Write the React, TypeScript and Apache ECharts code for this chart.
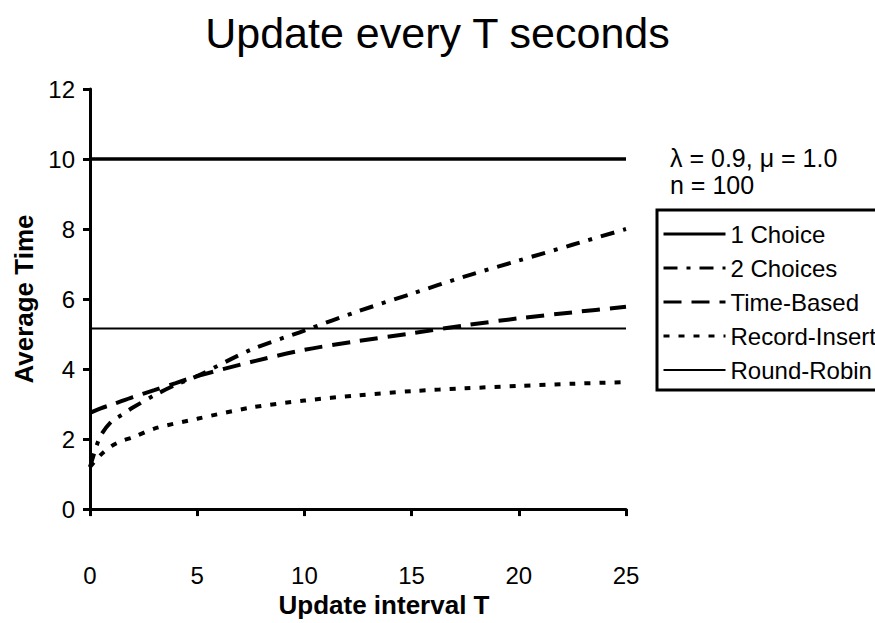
import React, { useEffect, useRef } from "react";
import * as echarts from "echarts";

const titleText = "Update every T seconds";
const xName = "Update interval T";
const yName = "Average Time";
const annotation = ["λ = 0.9, μ = 1.0", "n = 100"];

const seriesNames = ["1 Choice", "2 Choices", "Time-Based", "Record-Insert", "Round-Robin"];

const oneChoiceT = [0, 25];
const oneChoiceV = [10, 10];

const twoChoicesT = [0, 0.25, 0.5, 1, 1.5, 2, 3, 4, 5, 7.5, 10, 12.5, 15, 17.5, 20, 22.5, 25];
const twoChoicesV = [1.2, 1.7, 2.1, 2.5, 2.7, 2.9, 3.25, 3.55, 3.8, 4.55, 5.1, 5.65, 6.15, 6.65, 7.1, 7.55, 8.0];

const timeBasedT = [0, 0.5, 1, 2, 3, 4, 5, 7.5, 10, 12.5, 15, 17.5, 20, 22.5, 25];
const timeBasedV = [2.75, 2.88, 2.98, 3.2, 3.4, 3.6, 3.8, 4.2, 4.55, 4.8, 5.02, 5.25, 5.45, 5.62, 5.78];

const recordInsertT = [0, 0.5, 1, 1.5, 2, 3, 5, 7.5, 10, 12.5, 15, 17.5, 20, 22.5, 25];
const recordInsertV = [1.2, 1.55, 1.8, 1.95, 2.05, 2.3, 2.58, 2.9, 3.1, 3.25, 3.37, 3.45, 3.52, 3.58, 3.63];

const roundRobinT = [0, 25];
const roundRobinV = [5.16, 5.16];

const zip = (t: number[], v: number[]) => t.map((x, i) => [x, v[i]]);

const FONT = "'Liberation Sans', Arial, Helvetica, sans-serif";

export default function App() {
  const ref = useRef<HTMLDivElement>(null);
  useEffect(() => {
    if (!ref.current) return;
    const chart = echarts.init(ref.current, null, { renderer: "svg" });
    const mk = (name: string, data: number[][], type: any, width: number) => ({
      name,
      type: "line",
      data,
      showSymbol: false,
      symbol: "none",
      smooth: 0.3,
      lineStyle: { color: "#000", width, type, cap: "butt" },
      itemStyle: { color: "#000" },
    });
    chart.setOption({
      animation: false,
      backgroundColor: "#fff",
      textStyle: { fontFamily: FONT, color: "#000" },
      title: {
        text: titleText,
        left: "center",
        top: 6,
        textStyle: { fontFamily: FONT, fontSize: 43, fontWeight: "normal", color: "#000" },
      },
      grid: { left: 90, right: 249, top: 89, bottom: 108 },
      xAxis: {
        type: "value",
        min: 0,
        max: 25,
        interval: 5,
        name: xName,
        nameLocation: "middle",
        nameGap: 77,
        nameTextStyle: { fontFamily: FONT, fontSize: 26, fontWeight: "bold", color: "#000", padding: [0, 0, 0, 52] },
        axisLine: { show: true, onZero: false, lineStyle: { color: "#000", width: 3 } },
        axisTick: { show: true, inside: false, length: 7, lineStyle: { color: "#000", width: 3 } },
        axisLabel: { fontFamily: FONT, fontSize: 24, color: "#000", margin: 54 },
        splitLine: { show: false },
      },
      yAxis: {
        type: "value",
        min: 0,
        max: 12,
        interval: 2,
        name: yName,
        nameLocation: "middle",
        nameGap: 49,
        nameTextStyle: { fontFamily: FONT, fontSize: 26, fontWeight: "bold", color: "#000" },
        axisLine: { show: true, lineStyle: { color: "#000", width: 3 } },
        axisTick: { show: true, inside: false, length: 7, lineStyle: { color: "#000", width: 3 } },
        axisLabel: { fontFamily: FONT, fontSize: 24, color: "#000", margin: 15 },
        splitLine: { show: false },
      },
      legend: {
        orient: "vertical",
        left: 657,
        top: 210,
        data: seriesNames.map((n, i) => (i === 4 ? { name: n, lineStyle: { width: 2 } } : { name: n })),
        borderColor: "#000",
        borderWidth: 3,
        padding: [12, 60, 8, 5],
        itemWidth: 62,
        itemHeight: 14,
        itemGap: 10,
        itemStyle: { opacity: 0, borderWidth: 0 },
        lineStyle: { width: 3 },
        textStyle: { fontFamily: FONT, fontSize: 24, color: "#000" },
      },
      graphic: [
        {
          type: "text",
          left: 670,
          top: 144,
          style: {
            text: annotation.join("\n"),
            fontFamily: FONT,
            fontSize: 25,
            lineHeight: 27,
            fill: "#000",
          },
        },
      ],
      series: [
        mk(seriesNames[0], zip(oneChoiceT, oneChoiceV), "solid", 3.5),
        mk(seriesNames[1], zip(twoChoicesT, twoChoicesV), [14, 9, 4, 9], 4),
        mk(seriesNames[2], zip(timeBasedT, timeBasedV), [18, 10], 4),
        mk(seriesNames[3], zip(recordInsertT, recordInsertV), [6, 9], 4),
        mk(seriesNames[4], zip(roundRobinT, roundRobinV), "solid", 2),
      ],
    });
    return () => chart.dispose();
  }, []);
  return (
    <div
      ref={ref}
      style={{ position: "absolute", left: 0, top: 0, width: 875, height: 623, background: "#fff" }}
    />
  );
}
